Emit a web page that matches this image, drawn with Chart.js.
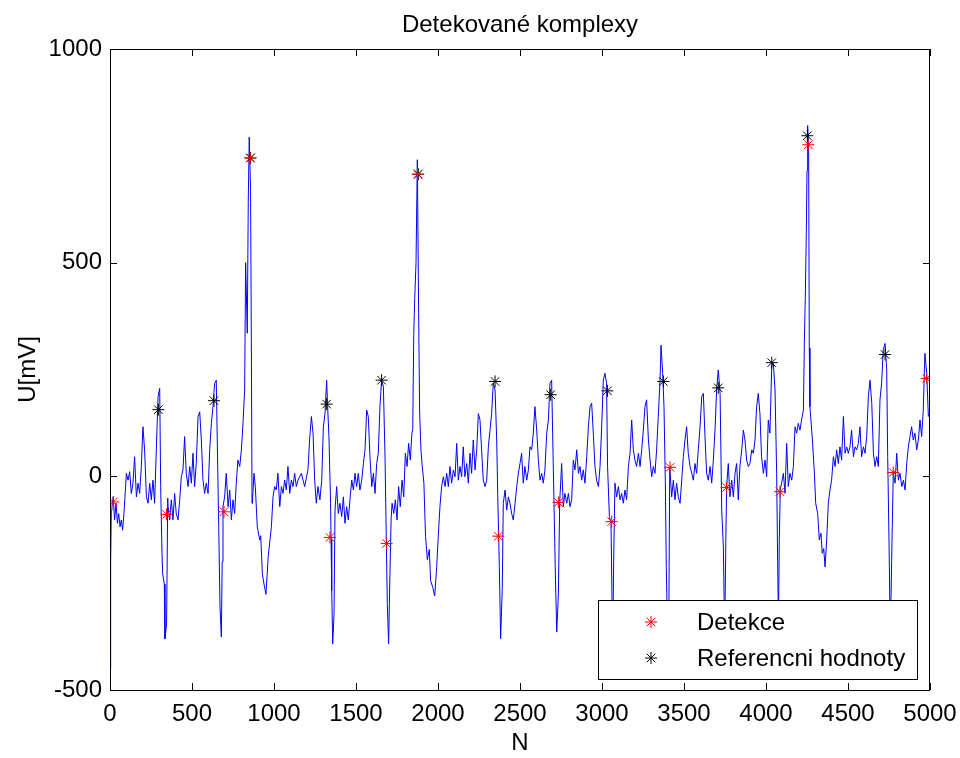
<!DOCTYPE html>
<html>
<head>
<meta charset="utf-8">
<title>Detekované komplexy</title>
<script src="https://cdn.jsdelivr.net/npm/chart.js@4.4.1/dist/chart.umd.min.js"></script>
<style>
  html, body { margin: 0; padding: 0; background: #fff; }
  canvas { display: block; }
</style>
</head>
<body>
<canvas id="graf" width="960" height="758"></canvas>
<script>
// EKG signal as [N, U (mV)] pairs
const ekg = [[0,-450],[4,-200],[8,-80],[12,-71],[20,-48],[28,-102],[37,-63],[45,-110],[53,-87],[61,-118],[69,-102],[77,-126],[85,-87],[100,7],[110,-9],[120,11],[130,-40],[140,-16],[150,46],[161,-48],[171,-16],[181,-40],[191,23],[201,116],[211,62],[222,-48],[232,-63],[242,-16],[252,-55],[262,-9],[272,-63],[283,69],[293,186],[303,206],[309,-24],[317,-180],[321,-228],[331,-252],[335,-380],[345,-348],[352,-51],[354,-71],[364,-102],[374,-55],[384,-102],[394,-40],[404,-87],[415,-102],[425,-55],[435,-1],[445,15],[455,93],[465,7],[476,-24],[486,23],[496,-16],[506,54],[516,-24],[526,30],[537,140],[547,151],[557,85],[567,-9],[577,-40],[587,-16],[598,-40],[608,62],[618,124],[628,163],[638,218],[648,225],[654,85],[663,-118],[671,-308],[679,-376],[684,-200],[689,-71],[699,-48],[709,7],[720,-71],[730,-32],[740,-102],[750,-55],[760,-87],[770,-16],[780,38],[791,23],[801,62],[811,124],[821,202],[827,500],[837,335],[843,641],[849,794],[857,673],[862,300],[866,-55],[868,-63],[878,7],[886,-24],[898,-118],[913,-149],[919,-139],[929,-228],[939,-252],[951,-276],[965,-187],[975,-150],[984,-118],[994,-48],[1004,-24],[1014,-32],[1024,7],[1035,-71],[1045,-24],[1055,-40],[1065,-9],[1075,-32],[1085,23],[1096,-40],[1106,-9],[1116,-24],[1126,7],[1136,-24],[1146,-9],[1167,7],[1187,-24],[1207,15],[1217,85],[1228,140],[1238,101],[1248,-9],[1258,-63],[1268,-24],
  [1280,-55],[1291,-9],[1301,116],[1311,147],[1321,225],[1327,163],[1335,93],[1345,-63],[1348,-147],[1352,-268],[1358,-392],[1366,-324],[1372,-79],[1382,-24],[1392,-87],[1402,-63],[1413,-94],[1423,-48],[1433,-110],[1443,-71],[1453,-102],[1463,-55],[1474,-9],[1484,-32],[1494,7],[1504,-24],[1514,7],[1524,-32],[1535,-9],[1545,30],[1555,62],[1565,155],[1575,140],[1585,46],[1596,-24],[1606,7],[1616,-40],[1626,30],[1636,54],[1646,163],[1656,225],[1667,210],[1677,46],[1683,-102],[1691,-300],[1699,-392],[1707,-228],[1714,-100],[1720,-63],[1730,-87],[1740,-55],[1750,-102],[1760,-24],[1770,-71],[1781,-9],[1791,-48],[1801,54],[1811,23],[1821,77],[1831,38],[1841,101],[1846,110],[1852,330],[1858,416],[1866,500],[1874,741],[1882,383],[1888,150],[1896,62],[1904,23],[1914,-16],[1924,-141],[1935,-195],[1947,-171],[1955,-244],[1968,-260],[1980,-280],[1992,-211],[2004,-123],[2012,-71],[2022,-24],[2033,-1],[2043,-24],[2053,7],[2063,-24],[2073,23],[2083,-16],[2094,15],[2104,-1],[2114,77],[2124,-9],[2134,23],[2144,-1],[2154,69],[2164,-1],[2175,30],[2185,-16],[2195,54],[2205,7],[2215,85],[2226,15],[2236,62],[2246,147],[2256,132],[2266,62],[2276,-9],[2287,-24],[2297,-9],[2307,69],[2317,108],[2327,147],[2337,218],[2348,202],[2358,85],[2364,-40],[2374,-211],[2382,-380],[2392,-260],[2398,-63],[2409,-32],[2419,-79],[2429,-48],[2439,-63],[2449,-87],[2459,-102],[2470,-63],[2480,-24],[2490,7],
  [2500,30],[2510,54],[2520,-16],[2530,23],[2541,-9],[2551,15],[2561,69],[2571,62],[2581,101],[2591,163],[2602,108],[2612,38],[2622,-9],[2632,7],[2642,-16],[2652,15],[2663,101],[2673,132],[2683,218],[2693,225],[2699,101],[2707,-55],[2716,-236],[2724,-364],[2734,-276],[2742,-60],[2754,30],[2764,-71],[2774,-40],[2785,-63],[2795,-40],[2805,-71],[2815,-55],[2825,38],[2835,15],[2846,62],[2856,7],[2866,23],[2876,-9],[2886,15],[2896,-16],[2907,46],[2917,116],[2927,163],[2937,171],[2947,101],[2957,23],[2967,-9],[2978,-24],[2988,23],[2998,116],[3008,225],[3018,241],[3028,218],[3034,23],[3045,-94],[3055,-110],[3061,-292],[3065,-420],[3071,-200],[3079,-16],[3089,-48],[3100,-24],[3110,-55],[3120,-40],[3130,-63],[3140,-32],[3150,-55],[3161,23],[3171,54],[3181,132],[3191,62],[3201,38],[3211,23],[3222,54],[3232,23],[3242,62],[3252,108],[3262,163],[3272,179],[3283,85],[3293,38],[3303,-1],[3313,23],[3323,7],[3333,62],[3343,140],[3354,225],[3360,307],[3370,241],[3378,163],[3386,-9],[3392,-211],[3400,-380],[3408,-300],[3413,22],[3425,-48],[3435,-9],[3445,-55],[3455,-16],[3465,-48],[3476,-63],[3486,-9],[3496,46],[3506,85],[3516,116],[3526,54],[3537,23],[3547,7],[3557,-9],[3567,30],[3577,7],[3587,62],[3598,116],[3608,186],[3618,194],[3628,93],[3638,7],[3648,-9],[3659,23],[3669,-16],[3679,38],[3689,108],[3699,202],[3709,249],[3720,194],[3730,-79],[3740,-165],
  [3748,-380],[3755,-150],[3760,-24],[3770,30],[3780,-48],[3791,-9],[3801,-48],[3811,7],[3821,30],[3831,-55],[3841,23],[3852,62],[3862,108],[3872,85],[3882,38],[3892,23],[3902,30],[3913,62],[3923,54],[3933,85],[3943,163],[3953,194],[3963,147],[3973,46],[3984,7],[3994,38],[4004,-1],[4014,132],[4024,101],[4035,257],[4045,264],[4055,202],[4065,7],[4071,-200],[4076,-350],[4081,-150],[4087,-30],[4095,-16],[4106,7],[4116,-40],[4126,77],[4136,-24],[4146,7],[4157,-9],[4167,23],[4177,116],[4187,101],[4197,124],[4207,108],[4217,132],[4228,155],[4234,316],[4240,429],[4246,576],[4250,715],[4254,821],[4260,767],[4264,300],[4268,163],[4283,85],[4295,7],[4303,-63],[4315,-87],[4325,-149],[4335,-133],[4343,-180],[4352,-169],[4360,-212],[4370,-149],[4380,-63],[4390,-32],[4400,-9],[4411,46],[4421,23],[4431,62],[4441,30],[4451,69],[4461,38],[4472,140],[4482,54],[4492,69],[4502,54],[4512,69],[4522,108],[4533,46],[4543,69],[4553,62],[4563,77],[4573,116],[4583,46],[4594,69],[4604,54],[4614,93],[4624,186],[4634,225],[4645,171],[4655,54],[4665,23],[4675,46],[4685,23],[4695,179],[4705,218],[4715,296],[4726,311],[4736,249],[4742,46],[4750,-149],[4758,-380],[4766,-200],[4776,9],[4787,-16],[4797,54],[4807,-9],[4817,7],[4828,-24],[4838,-9],[4848,-32],[4858,30],[4868,69],[4878,93],[4888,116],[4898,85],[4908,101],[4919,62],[4929,85],[4939,132],[4949,93],[4959,155],[4969,288],[4980,241],[4990,140],[5000,150]];

// detected complexes (red) and reference values (black)
const detekceN = [20, 345, 695, 855, 1341, 1687, 1876, 2368, 2734, 3059, 3415, 3760, 4085, 4258, 4776, 4980];
const detekceU = [-60, -89, -83, 745, -143, -157, 707, -140, -61, -106, 21, -26, -36, 776, 9, 229];
const referenceN = [295, 634, 857, 1321, 1656, 1880, 2348, 2687, 3033, 3374, 3709, 4035, 4252, 4726];
const referenceU = [156, 177, 745, 169, 225, 707, 222, 191, 200, 222, 207, 266, 797, 285];

const xTicks = [0, 500, 1000, 1500, 2000, 2500, 3000, 3500, 4000, 4500, 5000];
const xTickLabels = ["0", "500", "1000", "1500", "2000", "2500", "3000", "3500", "4000", "4500", "5000"];
const yTicks = [-500, 0, 500, 1000];
const yTickLabels = ["-500", "0", "500", "1000"];

const pismo = "'Liberation Sans', Arial, sans-serif";
const velikost = 24;

function body(xs, ys) {
    return xs.map((n, i) => ({ x: n, y: ys[i] }));
}

// MATLAB-like box, inward ticks and legend in the lower right corner
const matlabOsy = {
    id: "matlabOsy",
    afterLayout(chart) {
        // title centred over the axes, like MATLAB does
        if (chart.titleBlock) {
            chart.titleBlock.left = chart.chartArea.left;
            chart.titleBlock.right = chart.chartArea.right;
        }
    },
    afterDraw(chart) {
        const { ctx, chartArea: a, scales } = chart;
        const delka = 7;
        ctx.save();
        ctx.strokeStyle = "#000";
        ctx.lineWidth = 1;
        ctx.strokeRect(a.left + 0.5, a.top + 0.5, a.right - a.left - 1, a.bottom - a.top);

        ctx.beginPath();
        scales.x.ticks.forEach(t => {
            const px = Math.round(scales.x.getPixelForValue(t.value)) + 0.5;
            ctx.moveTo(px, a.bottom);
            ctx.lineTo(px, a.bottom - delka);
            ctx.moveTo(px, a.top);
            ctx.lineTo(px, a.top + delka);
        });
        scales.y.ticks.forEach(t => {
            const py = Math.round(scales.y.getPixelForValue(t.value)) + 0.5;
            ctx.moveTo(a.left, py);
            ctx.lineTo(a.left + delka, py);
            ctx.moveTo(a.right, py);
            ctx.lineTo(a.right - delka, py);
        });
        ctx.stroke();

        // legend
        const lx = 598, ly = 600, lw = 319, lh = 79;
        ctx.fillStyle = "#fff";
        ctx.fillRect(lx, ly, lw, lh);
        ctx.strokeRect(lx + 0.5, ly + 0.5, lw, lh);
        ctx.font = velikost + "px " + pismo;
        ctx.textBaseline = "middle";
        ctx.textAlign = "left";
        [0, 1].forEach((k, i) => {
            const ds = chart.data.datasets[k];
            const yy = ly + 22 + i * 36;
            ctx.strokeStyle = ds.borderColor;
            ctx.fillStyle = ds.borderColor;
            Chart.helpers.drawPoint(ctx, { pointStyle: "star", radius: 6, rotation: 0, borderWidth: 1 }, lx + 53, yy);
            ctx.fillStyle = "#000";
            ctx.fillText(ds.label, lx + 99, yy + 1);
        });
        ctx.restore();
    }
};

const ctx = document.getElementById("graf").getContext("2d");
const graf = new Chart(ctx, {
    type: "line",
    data: {
        datasets: [
            {
                label: "Detekce",
                data: body(detekceN, detekceU),
                showLine: false,
                pointStyle: "star",
                pointRadius: 6,
                pointBorderWidth: 1,
                borderColor: "#ff0000",
                backgroundColor: "#ff0000",
                order: 0
            },
            {
                label: "Referencni hodnoty",
                data: body(referenceN, referenceU),
                showLine: false,
                pointStyle: "star",
                pointRadius: 6,
                pointBorderWidth: 1,
                borderColor: "#000000",
                backgroundColor: "#000000",
                order: 1
            },
            {
                label: "signal",
                data: ekg.map(p => ({ x: p[0], y: p[1] })),
                borderColor: "#0000ff",
                borderWidth: 1,
                pointRadius: 0,
                tension: 0,
                order: 2
            }
        ]
    },
    options: {
        responsive: false,
        animation: false,
        layout: { padding: { left: 0, right: 30, top: 0, bottom: 0 } },
        plugins: {
            legend: { display: false },
            tooltip: { enabled: false },
            title: {
                display: true,
                text: "Detekované komplexy",
                color: "#000",
                font: { family: pismo, size: velikost, weight: "normal" },
                padding: { top: 10.6, bottom: 9.6 }
            }
        },
        scales: {
            x: {
                type: "linear",
                min: 0,
                max: 5000,
                grid: { display: false, drawTicks: false },
                border: { display: false },
                afterBuildTicks: s => { s.ticks = xTicks.map(v => ({ value: v })); },
                afterFit: s => {
                    s.height = 68;
                    s.paddingLeft = 0;
                    s.paddingRight = 0;
                },
                ticks: {
                    color: "#000",
                    padding: 10,
                    maxRotation: 0,
                    autoSkip: false,
                    font: { family: pismo, size: velikost },
                    callback: (v, i) => xTickLabels[i]
                },
                title: {
                    display: true,
                    text: "N",
                    color: "#000",
                    font: { family: pismo, size: velikost },
                    padding: { top: 0, bottom: 0 }
                }
            },
            y: {
                type: "linear",
                min: -500,
                max: 1000,
                grid: { display: false, drawTicks: false },
                border: { display: false },
                afterBuildTicks: s => { s.ticks = yTicks.map(v => ({ value: v })); },
                afterFit: s => { s.width = 110; },
                ticks: {
                    color: "#000",
                    padding: 8,
                    autoSkip: false,
                    font: { family: pismo, size: velikost },
                    callback: (v, i) => yTickLabels[i]
                },
                title: {
                    display: true,
                    text: "U[mV]",
                    color: "#000",
                    font: { family: pismo, size: velikost },
                    padding: { top: 14, bottom: 0 }
                }
            }
        }
    },
    plugins: [matlabOsy]
});
</script>
</body>
</html>
